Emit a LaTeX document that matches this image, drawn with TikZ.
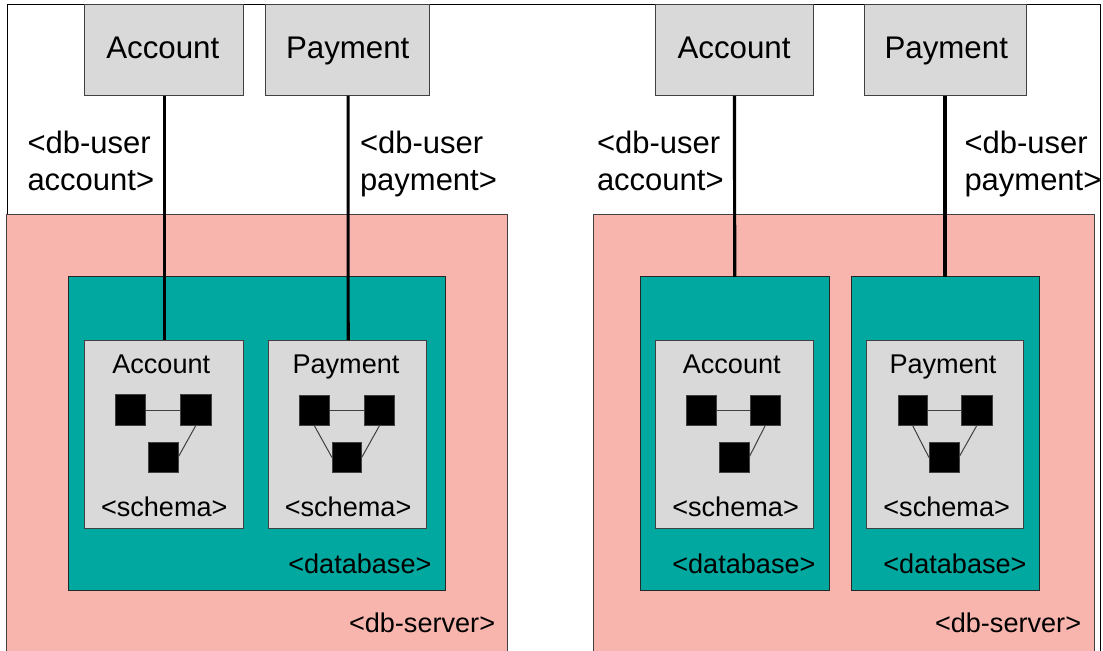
\documentclass[tikz,border=0pt]{standalone}
\usepackage{fontspec}
\setmainfont{Liberation Sans}
\definecolor{srv}{HTML}{F8B5AD}
\definecolor{dbc}{HTML}{00A8A0}
\definecolor{gry}{HTML}{D9D9D9}
\definecolor{edgec}{HTML}{404040}
\newcommand{\rbox}[6]{%
  \pgfmathsetmacro{\rw}{#5-#3}\pgfmathsetmacro{\rh}{#6-#4}%
  \pgfmathsetmacro{\rx}{(#5+#3)/2}\pgfmathsetmacro{\ry}{(#6+#4)/2}%
  \node[#1,minimum width=\rw bp,minimum height=\rh bp] (#2) at (\rx,\ry) {};}
\newcommand{\lbl}[5]{\node[#1] (#2) at (#3,#4) {#5};}
\tikzset{
  x=1bp,y=-1bp,
  every node/.style={inner sep=0pt,outer sep=0pt},
  plainbox/.style={rectangle,draw=edgec,line width=1bp},
  server/.style={plainbox,fill=srv},
  dbbox/.style={plainbox,draw=black!85,fill=dbc},
  graybox/.style={plainbox,fill=gry},
  sq/.style={rectangle,fill=black,draw=edgec,line width=0.5bp},
  link/.style={line width=3.2bp,black},
  thin link/.style={line width=1bp,edgec},
  big/.style={anchor=base west,font=\fontsize{31.4}{37.3}\selectfont,text=black},
  small/.style={anchor=base west,font=\fontsize{27.2}{32}\selectfont,text=black},
  twoline/.style={anchor=north west,align=left,font=\fontsize{31.1}{37.3}\selectfont,text=black},
}
\begin{document}
\begin{tikzpicture}
\useasboundingbox (0,0) rectangle (1103,651);
\fill[white] (0,0) rectangle (1103,651);
\clip (0,0) rectangle (1103,651);
% outer frame
\draw[line width=1bp,black] (7,5) rectangle (1100,660);
% left part
\rbox{server}{sL}{7}{215}{507}{660}
\rbox{dbbox}{dL}{69}{277}{445}{590.7}
\rbox{graybox}{cAL}{84.5}{340}{243}{528}
\rbox{graybox}{cPL}{268.4}{340}{426.5}{528}
\rbox{graybox}{aL}{84.5}{5}{243}{96}
\rbox{graybox}{pL}{265.5}{5}{429.3}{96}
\draw[link] ([xshift=0.7bp]aL.south) -- ([xshift=0.7bp]cAL.north);
\draw[link] ([xshift=0.7bp]pL.south) -- ([xshift=0.7bp]cPL.north);
\lbl{big}{tAL}{106.3}{58.6}{Account}
\lbl{big}{tPL}{286}{58.6}{Payment}
\lbl{twoline}{uAL}{27.5}{130.8}{<db-user\\account>}
\lbl{twoline}{uPL}{360}{130.8}{<db-user\\payment>}
\lbl{small}{nAL}{112.3}{373.5}{Account}
\lbl{small}{nPL}{292.5}{373.5}{Payment}
\lbl{small}{scAL}{101}{516.3}{<schema>}
\lbl{small}{scPL}{284.8}{516.3}{<schema>}
\lbl{small}{dbtL}{288.3}{573}{<database>}
\lbl{small}{srvL}{349}{632.7}{<db-server>}
\rbox{sq}{a1L}{115.4}{394.5}{145}{425.7}
\rbox{sq}{a2L}{180.6}{394.5}{210.8}{425.7}
\rbox{sq}{a3L}{148}{442.7}{178}{472.3}
\draw[thin link] (a1L.east) -- (a2L.west);
\draw[thin link] (a2L.south) -- (a3L.east);
\rbox{sq}{p1L}{299.2}{395.5}{329.5}{425.7}
\rbox{sq}{p2L}{364.5}{395.5}{394.4}{425.7}
\rbox{sq}{p3L}{332}{442.7}{361.7}{472.3}
\draw[thin link] (p1L.east) -- (p2L.west);
\draw[thin link] (p1L.south) -- (p3L.west);
\draw[thin link] (p2L.south) -- (p3L.east);
% right part
\rbox{server}{sR}{593.3}{215}{1094}{660}
\rbox{dbbox}{dAR}{640}{277}{829.4}{590.7}
\rbox{dbbox}{dPR}{851}{277}{1039}{590.7}
\rbox{graybox}{cAR}{655.4}{340}{813.6}{528}
\rbox{graybox}{cPR}{866.6}{340}{1023.7}{528}
\rbox{graybox}{aR}{655.4}{5}{813.6}{96}
\rbox{graybox}{pR}{864}{5}{1026}{96}
\draw[link] (aR.south) -- (dAR.north);
\draw[link] (pR.south) -- (dPR.north);
\lbl{big}{tAR}{677.5}{58.6}{Account}
\lbl{big}{tPR}{884.5}{58.6}{Payment}
\lbl{twoline}{uAR}{597}{130.8}{<db-user\\account>}
\lbl{twoline}{uPR}{964.5}{130.8}{<db-user\\payment>}
\lbl{small}{nAR}{682.8}{373.5}{Account}
\lbl{small}{nPR}{889.5}{373.5}{Payment}
\lbl{small}{scAR}{672.3}{516.3}{<schema>}
\lbl{small}{scPR}{883.4}{516.3}{<schema>}
\lbl{small}{dbtAR}{672.3}{573}{<database>}
\lbl{small}{dbtPR}{883.4}{573}{<database>}
\lbl{small}{srvR}{935}{632.7}{<db-server>}
\rbox{sq}{a1R}{686.3}{395.5}{716.5}{425.7}
\rbox{sq}{a2R}{750}{395.5}{780.3}{425.7}
\rbox{sq}{a3R}{719}{442.7}{749}{472.3}
\draw[thin link] (a1R.east) -- (a2R.west);
\draw[thin link] (a2R.south) -- (a3R.east);
\rbox{sq}{p1R}{897.8}{395.5}{927.6}{425.7}
\rbox{sq}{p2R}{961.6}{395.5}{991.8}{425.7}
\rbox{sq}{p3R}{929}{442.7}{958.8}{472.3}
\draw[thin link] (p1R.east) -- (p2R.west);
\draw[thin link] (p1R.south) -- (p3R.west);
\draw[thin link] (p2R.south) -- (p3R.east);
\end{tikzpicture}
\end{document}
